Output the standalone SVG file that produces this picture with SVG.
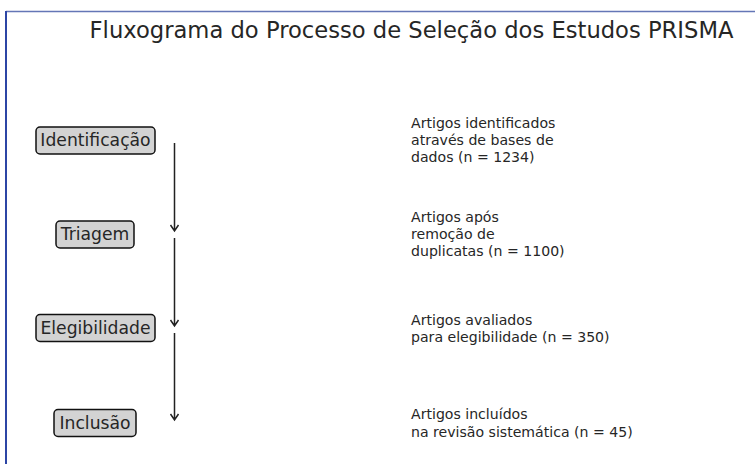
<svg xmlns="http://www.w3.org/2000/svg" width="755" height="464" viewBox="0 0 755 464">
<style>
text{font-family:"DejaVu Sans","Liberation Sans",sans-serif;fill:#262626}
.title{font-size:22.65px}
.lbl{font-size:17.2px}
.desc{font-size:14.1px}
.box{fill:#d3d3d3;stroke:#111;stroke-width:1.5}
</style>
<rect width="755" height="464" fill="#fff"/>
<line x1="6" y1="11.5" x2="755" y2="11.5" stroke="#6476b6" stroke-width="1.5"/>
<line x1="6" y1="11" x2="6" y2="464" stroke="#2c45a5" stroke-width="2"/>
<text class="title" x="411.5" y="38" text-anchor="middle">Fluxograma do Processo de Seleção dos Estudos PRISMA</text>
<g id="connectors" stroke="#222" stroke-width="1.5" fill="none">
<path d="M174.5 143V231M170.5 225L174.5 231L178.5 225"/>
<path d="M174.5 238V326M170.5 320L174.5 326L178.5 320"/>
<path d="M174.5 333V420M170.5 414L174.5 420L178.5 414"/>
</g>
<g id="n-identificacao">
<rect class="box" x="36" y="127" width="119" height="27" rx="4"/>
<text class="lbl" x="95.5" y="146" text-anchor="middle">Identificação</text>
</g>
<g id="n-triagem">
<rect class="box" x="56" y="221" width="78" height="27" rx="4"/>
<text class="lbl" x="95" y="240" text-anchor="middle">Triagem</text>
</g>
<g id="n-elegibilidade">
<rect class="box" x="36" y="314.5" width="119" height="27" rx="4"/>
<text class="lbl" x="95.5" y="333.5" text-anchor="middle">Elegibilidade</text>
</g>
<g id="n-inclusao">
<rect class="box" x="54" y="409.5" width="82" height="27" rx="4"/>
<text class="lbl" x="95" y="428.5" text-anchor="middle">Inclusão</text>
</g>
<g id="d-identificacao">
<text class="desc" x="411" y="128">Artigos identificados</text>
<text class="desc" x="411" y="145">através de bases de</text>
<text class="desc" x="411" y="162">dados (n = 1234)</text>
</g>
<g id="d-triagem">
<text class="desc" x="411" y="222">Artigos após</text>
<text class="desc" x="411" y="239">remoção de</text>
<text class="desc" x="411" y="256">duplicatas (n = 1100)</text>
</g>
<g id="d-elegibilidade">
<text class="desc" x="411" y="325">Artigos avaliados</text>
<text class="desc" x="411" y="342">para elegibilidade (n = 350)</text>
</g>
<g id="d-inclusao">
<text class="desc" x="411" y="419">Artigos incluídos</text>
<text class="desc" x="411" y="437">na revisão sistemática (n = 45)</text>
</g>
</svg>
